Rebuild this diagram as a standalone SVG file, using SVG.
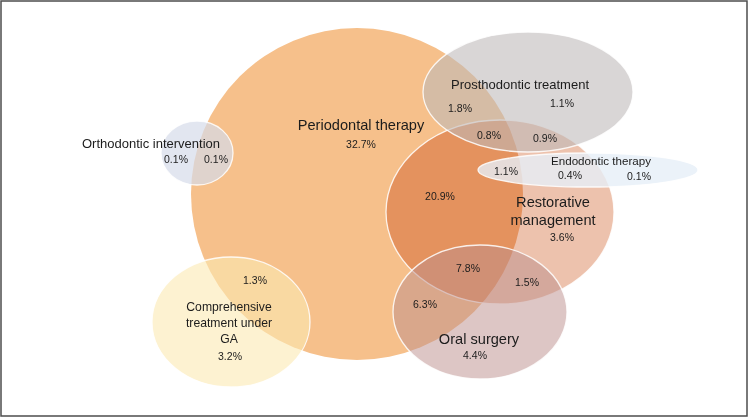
<svg xmlns="http://www.w3.org/2000/svg" width="750" height="418" viewBox="0 0 750 418">
<style>
text{font-family:"Liberation Sans",Arial,sans-serif;fill:#1c1c1c;text-anchor:middle}
.pct{font-size:10.5px}
.big{font-size:14.6px}
.mid{font-size:13px}
.edge{fill:none;stroke:#ffffff;stroke-width:1.3;stroke-opacity:0.85}
</style>
<rect x="1" y="1" width="746" height="415" fill="#ffffff" stroke="#4d4d4d" stroke-width="1.5"/>
<g id="periodontal">
<circle cx="357" cy="194" r="166" fill="#F6C08B"/>
<text class="big" x="361" y="130">Periodontal therapy</text>
<text class="pct" x="361" y="148">32.7%</text>
</g>
<g id="orthodontic">
<ellipse cx="197" cy="153" rx="36" ry="32" fill="#D6DBEA" fill-opacity="0.7"/>
<ellipse class="edge" cx="197" cy="153" rx="36" ry="32"/>
<text class="mid" x="151" y="148">Orthodontic intervention</text>
</g>
<g id="comprehensive">
<ellipse cx="231" cy="322" rx="79" ry="65" fill="#FCE9B2" fill-opacity="0.6"/>
<ellipse class="edge" cx="231" cy="322" rx="79" ry="65"/>
<text style="font-size:12.2px" x="229" y="311">Comprehensive</text>
<text style="font-size:12.2px" x="229" y="327">treatment under</text>
<text style="font-size:12.2px" x="229" y="343">GA</text>
<text class="pct" x="230" y="360">3.2%</text>
</g>
<g id="restorative">
<ellipse cx="500" cy="212" rx="114" ry="92" fill="#EDC2AD" style="mix-blend-mode:multiply"/>
<ellipse class="edge" cx="500" cy="212" rx="114" ry="92"/>
<text class="big" x="553" y="207">Restorative</text>
<text class="big" x="553" y="225">management</text>
<text class="pct" x="562" y="241">3.6%</text>
</g>
<g id="oral-surgery">
<ellipse cx="480" cy="312" rx="87" ry="67" fill="#BB8D8B" fill-opacity="0.5"/>
<ellipse class="edge" cx="480" cy="312" rx="87" ry="67"/>
<text class="big" x="479" y="344">Oral surgery</text>
<text class="pct" x="475" y="359">4.4%</text>
</g>
<g id="prosthodontic">
<ellipse cx="528" cy="92" rx="105" ry="60" fill="#BDB9B9" fill-opacity="0.58"/>
<ellipse class="edge" cx="528" cy="92" rx="105" ry="60"/>
<text class="mid" x="520" y="89">Prosthodontic treatment</text>
<text class="pct" x="562" y="107">1.1%</text>
</g>
<g id="endodontic">
<ellipse cx="588" cy="170" rx="110" ry="17" fill="#E6EFF8" fill-opacity="0.8"/>
<ellipse class="edge" cx="588" cy="170" rx="110" ry="17"/>
<text style="font-size:11.6px" x="601" y="165">Endodontic therapy</text>
<text class="pct" x="639" y="180">0.1%</text>
</g>
<g id="overlap-labels">
<text class="pct" x="176" y="163">0.1%</text>
<text class="pct" x="216" y="163">0.1%</text>
<text class="pct" x="460" y="112">1.8%</text>
<text class="pct" x="489" y="139">0.8%</text>
<text class="pct" x="545" y="142">0.9%</text>
<text class="pct" x="506" y="175">1.1%</text>
<text class="pct" x="570" y="179">0.4%</text>
<text class="pct" x="440" y="200">20.9%</text>
<text class="pct" x="468" y="272">7.8%</text>
<text class="pct" x="527" y="286">1.5%</text>
<text class="pct" x="425" y="308">6.3%</text>
<text class="pct" x="255" y="284">1.3%</text>
</g>
</svg>
